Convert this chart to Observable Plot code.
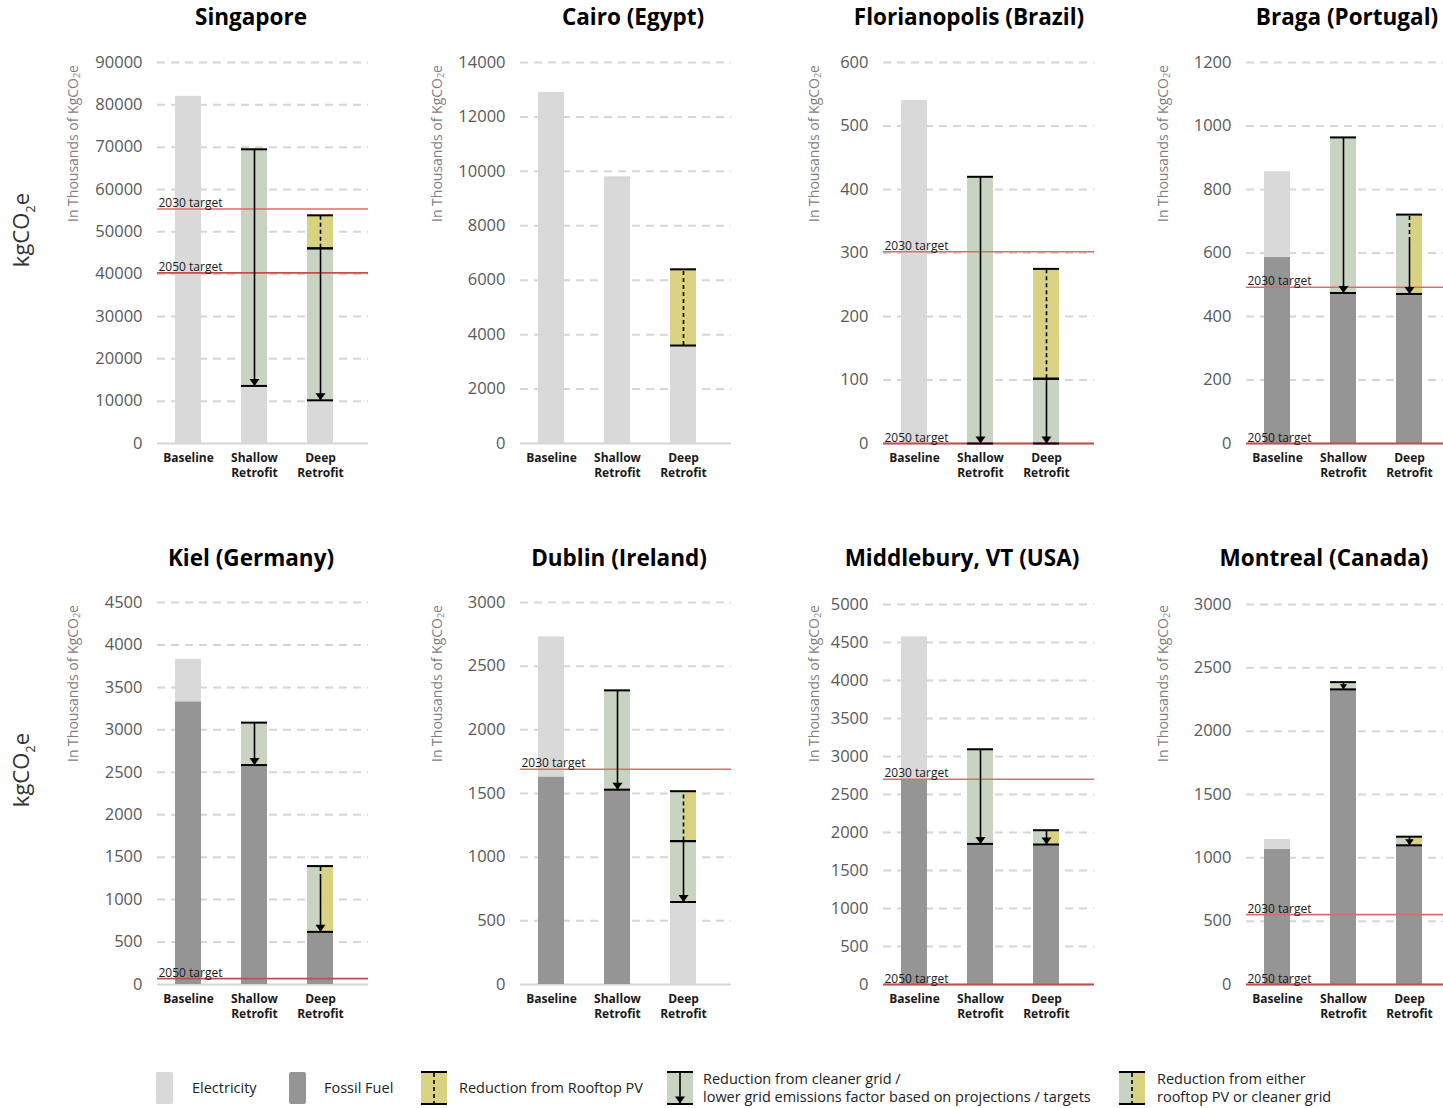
<!DOCTYPE html>
<html>
<head>
<meta charset="utf-8">
<script src="https://cdn.jsdelivr.net/npm/d3@7"></script>
<script src="https://cdn.jsdelivr.net/npm/@observablehq/plot@0.6"></script>
<style>
  html, body { margin: 0; padding: 0; background: #fff; overflow: hidden; }
  #page { position: relative; width: 1443px; height: 1108px; overflow: hidden; font-family: "Open Sans", sans-serif; }
  .title { position: absolute; font-weight: 700; font-size: 22.5px; line-height: 30px; color: #000; transform: translateX(-50%); white-space: nowrap; }
  .ylab { position: absolute; writing-mode: vertical-rl; transform: rotate(180deg); font-size: 14px; line-height: 20px; color: #7f7f7f; white-space: nowrap; }
  .ylab sub { font-size: 9px; }
  .big { position: absolute; transform: translate(-50%, -50%) rotate(-90deg); font-size: 22px; line-height: 30px; color: #333; white-space: nowrap; }
  .big sub { font-size: 13px; }
  .panel { position: absolute; }
  .legend { position: absolute; top: 1070px; left: 0; width: 1443px; height: 36px; font-size: 14.5px; color: #222; }
  .litem { position: absolute; top: 0; height: 36px; display: flex; align-items: center; }
  .litem svg { display: block; }
  .litem .txt { line-height: 18px; white-space: nowrap; }
</style>
</head>
<body>
<div id="page"></div>
<script>
// ---------------- DATA ----------------
const scenarios = ["Baseline", "Shallow Retrofit", "Deep Retrofit"];
const scenarioLabels = ["Baseline", "Shallow\nRetrofit", "Deep\nRetrofit"];
const cities = ["Singapore", "Cairo (Egypt)", "Florianopolis (Brazil)", "Braga (Portugal)",
                "Kiel (Germany)", "Dublin (Ireland)", "Middlebury, VT (USA)", "Montreal (Canada)"];
const yMax  = [90000, 14000, 600, 1200, 4500, 3000, 5000, 3000];
const yStep = [10000, 2000, 100, 200, 500, 500, 500, 500];
const target2030 = [55400, null, 302, 492, null, 1690, 2700, 552];
const target2050 = [40300, null, 0, 0, 70, null, 0, 0];

// segment sizes per city, [Baseline, Shallow Retrofit, Deep Retrofit], stacked bottom -> top
const fossilFuel   = [[0,0,0],[0,0,0],[0,0,0],[586,474,471],[3330,2585,620],[1630,1530,0],[2700,1850,1842],[1067,2330,1099]];
const electricity  = [[82000,13600,10200],[12900,9800,3600],[540,0,0],[270,0,0],[500,0,0],[1100,0,648],[1875,0,0],[78,0,0]];
const cleanerGrid  = [[0,55900,35900],[0,0,0],[0,420,102],[0,490,0],[0,500,0],[0,780,478],[0,1245,0],[0,57,0]];
const rooftopPV    = [[0,0,7800],[0,0,2800],[0,0,173],[0,0,0],[0,0,0],[0,0,0],[0,0,0],[0,0,0]];
const eitherPVGrid = [[0,0,0],[0,0,0],[0,0,0],[0,0,250],[0,0,775],[0,0,392],[0,0,188],[0,0,68]];
// value down to which the "either" reduction is drawn dashed (below it: solid arrow)
const eitherDashEnd = [null, null, null, 636, 1250, 1126, 2030, 1167];

const legendLabels = ["Electricity", "Fossil Fuel", "Reduction from Rooftop PV",
  "Reduction from cleaner grid /\nlower grid emissions factor based on projections / targets",
  "Reduction from either\nrooftop PV or cleaner grid"];

// ---------------- STYLE / LAYOUT ----------------
const colors = {fossil: "#959595", elec: "#d9d9d9", grid: "#c8d4c1", pv: "#d8d282"};
const red2030 = "#e06a6a", red2050 = "#c0504d";
const plotTop = [62, 62, 62, 62, 602, 602, 604, 604];
const titleX = [251, 633, 969, 1347, 251, 619, 962, 1324];
const yLabX  = [73, 437, 814, 1163, 73, 437, 814, 1163];
const PLOT_W = 211, ML = 157, MR = 4;

const kinds = [
  {key: "fossil", values: fossilFuel},
  {key: "elec", values: electricity},
  {key: "grid", values: cleanerGrid},
  {key: "pv", values: rooftopPV},
  {key: "either", values: eitherPVGrid}
];

const downTriangle = {
  draw(ctx, size) {
    const r = Math.sqrt(size / Math.PI);
    const w = r, h = r * 1.4;
    ctx.moveTo(0, 0); ctx.lineTo(-w, -h); ctx.lineTo(w, -h); ctx.closePath();
  }
};

const page = document.getElementById("page");

function segmentsFor(ci) {
  const segs = [];
  scenarios.forEach((s, si) => {
    let base = 0;
    for (const k of kinds) {
      const v = k.values[ci][si];
      if (v > 0) { segs.push({scenario: s, kind: k.key, y1: base, y2: base + v}); base += v; }
    }
  });
  return segs;
}

function panel(ci) {
  const col = ci % 4, row = Math.floor(ci / 4);
  const left = col * 363;
  const zeroY = row ? 984 : 443;
  const svgTop = row ? 578 : 38;
  const marginTop = plotTop[ci] - svgTop;
  const innerH = zeroY - plotTop[ci];
  const marginBottom = 50;
  const width = ML + PLOT_W + MR;
  const height = marginTop + innerH + marginBottom;
  const pxPerUnit = innerH / yMax[ci];

  const ticks = d3.range(0, yMax[ci] + yStep[ci] / 2, yStep[ci]);
  const segs = segmentsFor(ci);
  const plain = segs.filter(d => d.kind !== "either");
  const either = segs.filter(d => d.kind === "either");
  const reductions = segs.filter(d => d.kind === "grid" || d.kind === "pv" || d.kind === "either");

  const solid = [], dashed = [], caps = [];
  for (const d of reductions) {
    caps.push({scenario: d.scenario, y: d.y1}, {scenario: d.scenario, y: d.y2});
    if (d.kind === "grid") solid.push({scenario: d.scenario, tip: d.y1, from: d.y2});
    if (d.kind === "pv") dashed.push({scenario: d.scenario, lo: d.y1, hi: d.y2});
    if (d.kind === "either") {
      const e = eitherDashEnd[ci];
      if (e < d.y2) dashed.push({scenario: d.scenario, lo: e, hi: d.y2});
      if (e > d.y1) solid.push({scenario: d.scenario, tip: d.y1, from: e});
    }
  }

  const bw = 26;
  const marks = [
    Plot.ruleY(ticks.filter(t => t > 0), {stroke: "#d6d6d6", strokeWidth: 2, strokeDasharray: "8,6"}),
    Plot.ruleY([0], {stroke: "#d6d6d6", strokeWidth: 1.8}),
    Plot.barY(plain, {x: "scenario", y1: "y1", y2: "y2", fill: d => colors[d.kind]}),
    Plot.barY(either, {x: "scenario", y1: "y1", y2: "y2", fill: colors.grid, insetRight: bw / 2}),
    Plot.barY(either, {x: "scenario", y1: "y1", y2: "y2", fill: colors.pv, insetLeft: bw / 2})
  ];
  if (target2030[ci] != null) {
    marks.push(Plot.ruleY([target2030[ci]], {stroke: red2030, strokeWidth: 1.6}));
    marks.push(Plot.text([target2030[ci]], {y: d => d, frameAnchor: "left", text: () => "2030 target",
      textAnchor: "start", lineAnchor: "bottom", dx: 1, dy: -2, fontSize: 12, fill: "#1a1a1a"}));
  }
  if (target2050[ci] != null) {
    marks.push(Plot.ruleY([target2050[ci]], {stroke: red2050, strokeWidth: 1.8}));
    marks.push(Plot.text([target2050[ci]], {y: d => d, frameAnchor: "left", text: () => "2050 target",
      textAnchor: "start", lineAnchor: "bottom", dx: 1, dy: -2, fontSize: 12, fill: "#1a1a1a"}));
  }
  marks.push(
    Plot.ruleX(dashed, {x: "scenario", y1: "lo", y2: "hi", stroke: "#000", strokeWidth: 1.6, strokeDasharray: "4,3"}),
    Plot.ruleX(solid, {x: "scenario", y1: "tip", y2: "from", stroke: "#000", strokeWidth: 1.6}),
    Plot.tickY(caps, {x: "scenario", y: "y", stroke: "#000", strokeWidth: 2})
  );
  for (const a of solid) {
    const r = Math.min(5, (a.from - a.tip) * pxPerUnit * 0.5);
    marks.push(Plot.dot([a], {x: "scenario", y: "tip", r, symbol: downTriangle, fill: "#000", stroke: "none"}));
  }
  marks.push(
    Plot.axisY({ticks, tickSize: 0, tickPadding: 15, tickFormat: d3.format("d"), fontSize: 16.5, color: "#595959", label: null}),
    Plot.axisX({tickSize: 0, tickPadding: 8, tickFormat: d => scenarioLabels[scenarios.indexOf(d)],
      fontSize: 12, fontWeight: "bold", color: "#1a1a1a", lineHeight: 1.22, label: null})
  );

  const svg = Plot.plot({
    width, height, marginLeft: ML, marginRight: MR, marginTop, marginBottom,
    style: {background: "transparent", maxWidth: "none", overflow: "visible", fontFamily: "'Open Sans', sans-serif"},
    x: {domain: scenarios, paddingInner: 0.61, paddingOuter: 0.39, align: 0.33},
    y: {domain: [0, yMax[ci]]},
    color: {type: "identity"},
    marks
  });

  const div = document.createElement("div");
  div.className = "panel";
  div.style.left = left + "px";
  div.style.top = svgTop + "px";
  div.style.width = width + "px";
  div.appendChild(svg);
  page.appendChild(div);

  const t = document.createElement("div");
  t.className = "title";
  t.style.left = titleX[ci] + "px";
  t.style.top = (row ? 543 : 2) + "px";
  t.textContent = cities[ci];
  page.appendChild(t);

  const yl = document.createElement("div");
  yl.className = "ylab";
  yl.style.left = (yLabX[ci] - 10) + "px";
  yl.style.top = (row ? 605 : 65) + "px";
  yl.innerHTML = "In Thousands of KgCO<sub>2</sub>e";
  page.appendChild(yl);
}

cities.forEach((c, i) => panel(i));

for (const cy of [230, 770]) {
  const b = document.createElement("div");
  b.className = "big";
  b.style.left = "25px";
  b.style.top = cy + "px";
  b.innerHTML = "kgCO<sub>2</sub>e";
  page.appendChild(b);
}

// ---------------- LEGEND ----------------
function swatch(kind) {
  const w = (kind === "elec" || kind === "fossil") ? 17 : 26, h = 34;
  let s = `<svg width="${w}" height="${h}">`;
  if (kind === "elec" || kind === "fossil") {
    s += `<rect x="0" y="1" width="${w}" height="${h - 2}" rx="2" fill="${colors[kind]}"/>`;
  } else if (kind === "pv") {
    s += `<rect x="0" y="1" width="${w}" height="${h - 2}" fill="${colors.pv}"/>`;
    s += `<line x1="${w/2}" x2="${w/2}" y1="2" y2="${h-2}" stroke="#000" stroke-width="1.6" stroke-dasharray="4,3"/>`;
  } else if (kind === "grid") {
    s += `<rect x="0" y="1" width="${w}" height="${h - 2}" fill="${colors.grid}"/>`;
    s += `<line x1="${w/2}" x2="${w/2}" y1="2" y2="${h-2}" stroke="#000" stroke-width="1.6"/>`;
    s += `<path d="M${w/2},${h-1.5}L${w/2-5},${h-8.5}L${w/2+5},${h-8.5}Z" fill="#000"/>`;
  } else {
    s += `<rect x="0" y="1" width="${w/2}" height="${h - 2}" fill="${colors.grid}"/>`;
    s += `<rect x="${w/2}" y="1" width="${w/2}" height="${h - 2}" fill="${colors.pv}"/>`;
    s += `<line x1="${w/2}" x2="${w/2}" y1="2" y2="${h-2}" stroke="#000" stroke-width="1.6" stroke-dasharray="4,3"/>`;
  }
  if (kind !== "elec" && kind !== "fossil") {
    s += `<line x1="0" x2="${w}" y1="1" y2="1" stroke="#000" stroke-width="2"/>`;
    s += `<line x1="0" x2="${w}" y1="${h-1}" y2="${h-1}" stroke="#000" stroke-width="2"/>`;
  }
  return s + "</svg>";
}
const legend = document.createElement("div");
legend.className = "legend";
const legendKinds = ["elec", "fossil", "pv", "grid", "either"];
const legendX = [156, 289, 421, 667, 1119];
const legendGap = [19, 18, 12, 10, 12];
legendKinds.forEach((k, i) => {
  const it = document.createElement("div");
  it.className = "litem";
  it.style.left = legendX[i] + "px";
  it.innerHTML = swatch(k) + `<div class="txt" style="margin-left:${legendGap[i]}px">${legendLabels[i].replace("\n", "<br>")}</div>`;
  legend.appendChild(it);
});
page.appendChild(legend);
</script>
</body>
</html>
